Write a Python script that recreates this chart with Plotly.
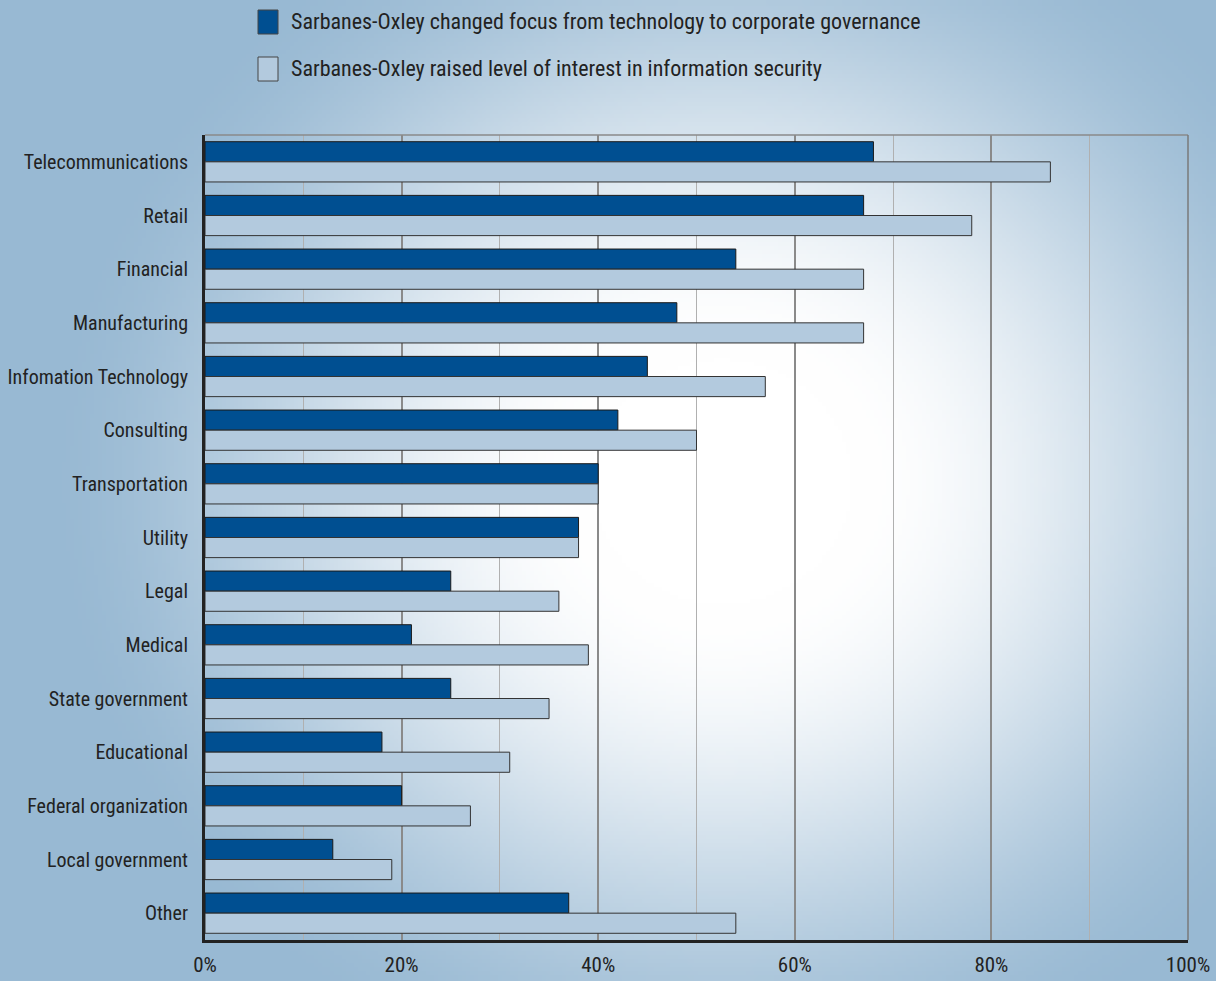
import base64, struct, zlib
import numpy as np
import plotly.graph_objects as go

categories = ["Telecommunications", "Retail", "Financial", "Manufacturing", "Infomation Technology",
              "Consulting", "Transportation", "Utility", "Legal", "Medical", "State government",
              "Educational", "Federal organization", "Local government", "Other"]
governance = [68, 67, 54, 48, 45, 42, 40, 38, 25, 21, 25, 18, 20, 13, 37]
security = [86, 78, 67, 67, 57, 50, 40, 38, 36, 39, 35, 31, 27, 19, 54]
series_names = ["Sarbanes-Oxley changed focus from technology to corporate governance",
                "Sarbanes-Oxley raised level of interest in information security"]
x_ticks = [0, 20, 40, 60, 80, 100]
x_tick_labels = ["0%", "20%", "40%", "60%", "80%", "100%"]

DARK = "#004f91"
LIGHT = "#b3cade"
EDGE = np.array([152, 185, 211], dtype=float)
FONT = "Liberation Sans Narrow, Roboto Condensed, Arial Narrow, sans-serif"

W, H = 1216, 981
L, R, T, B = 205, 28, 135, 41
PW, PH = W - L - R, H - T - B

# background radial gradient as PNG
gw, gh = 304, 245
yy, xx = np.mgrid[0:gh, 0:gw]
px = xx * (W / gw)
py = yy * (H / gh)
d = np.sqrt(((px - 720) / 660.0) ** 2 + ((py - 480) / 620.0) ** 2)
t = np.clip((d - 0.2) / 0.85, 0, 1)
t = t * t * (3 - 2 * t)
img = (255 * (1 - t[..., None]) + EDGE * t[..., None]).astype(np.uint8)
raw = b"".join(b"\x00" + img[r].tobytes() for r in range(gh))


def chunk(tag, data):
    c = struct.pack(">I", len(data)) + tag + data
    return c + struct.pack(">I", zlib.crc32(tag + data) & 0xffffffff)


png = b"\x89PNG\r\n\x1a\n" + chunk(b"IHDR", struct.pack(">IIBBBBB", gw, gh, 8, 2, 0, 0, 0)) \
      + chunk(b"IDAT", zlib.compress(raw, 9)) + chunk(b"IEND", b"")
src = "data:image/png;base64," + base64.b64encode(png).decode()

fig = go.Figure()
fig.add_trace(go.Bar(y=categories, x=governance, orientation="h", name=series_names[0],
                     marker=dict(color=DARK, line=dict(color="#1a1a1a", width=1)), showlegend=False))
fig.add_trace(go.Bar(y=categories, x=security, orientation="h", name=series_names[1],
                     marker=dict(color=LIGHT, line=dict(color="#333333", width=1)), showlegend=False))


def px2x(p):
    return (p - L) / PW


def py2y(p):
    return (H - B - p) / PH


shapes = [
    dict(type="line", xref="paper", yref="paper", x0=0, x1=1, y0=1, y1=1,
         line=dict(color="#8a8a8a", width=1.5)),
    dict(type="line", xref="paper", yref="paper", x0=1, x1=1, y0=0, y1=1,
         line=dict(color="#7a7a7a", width=1.5)),
]
annotations = []
for i, (c, yc) in enumerate([(DARK, 22), (LIGHT, 69)]):
    shapes.append(dict(type="rect", xref="paper", yref="paper",
                       x0=px2x(258), x1=px2x(278), y0=py2y(yc + 12), y1=py2y(yc - 12),
                       fillcolor=c, line=dict(color="#444444", width=1)))
    annotations.append(dict(xref="paper", yref="paper", x=px2x(289), y=py2y(yc), xanchor="left",
                            yanchor="middle", text=series_names[i], showarrow=False,
                            font=dict(family=FONT, size=22, color="#222222")))

fig.update_layout(
    width=W, height=H, margin=dict(l=L, r=R, t=T, b=B, autoexpand=False),
    paper_bgcolor="rgb(152,185,211)", plot_bgcolor="rgba(0,0,0,0)",
    barmode="group", bargap=0.25, bargroupgap=0.0,
    font=dict(family=FONT, size=22, color="#222222"),
    images=[dict(source=src, xref="paper", yref="paper", x=-L / PW, y=(H - B) / PH,
                 sizex=W / PW, sizey=H / PH, sizing="stretch", layer="below",
                 xanchor="left", yanchor="top")],
    shapes=shapes, annotations=annotations,
    xaxis=dict(range=[0, 100], tickmode="array", tickvals=x_ticks, ticktext=x_tick_labels,
               showgrid=True, gridcolor="#8a8a8a", gridwidth=1.5,
               minor=dict(dtick=10, showgrid=True, gridcolor="#b0b0b0", gridwidth=1),
               showline=True, linecolor="#222222", linewidth=3, zeroline=False,
               ticks="", ticklabelstandoff=4, tickfont=dict(size=21), automargin=False),
    yaxis=dict(autorange="reversed", showline=True, linecolor="#222222", linewidth=3,
               showgrid=False, ticks="", ticklabelstandoff=10, tickfont=dict(size=20),
               automargin=False),
)
fig.write_html("out.html", config={"displayModeBar": False},
               post_script="document.body.style.margin='0';")
